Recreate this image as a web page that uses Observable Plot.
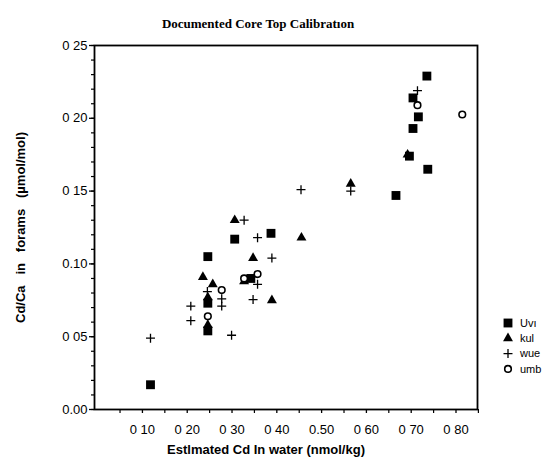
<!DOCTYPE html>
<html><head><meta charset="utf-8">
<script src="https://cdn.jsdelivr.net/npm/d3@7"></script>
<script src="https://cdn.jsdelivr.net/npm/@observablehq/plot@0.6"></script>
<style>body{margin:0;background:#fff} svg{display:block}</style>
</head><body><div id="chart"></div>
<script>
const titleText = "Documented Core Top Calibratıon";
const xLabel = "Estlmated Cd In water (nmol/kg)";
const yLabel = "Cd/Ca\u00a0\u00a0 in\u00a0\u00a0 forams\u00a0\u00a0 (\u00b5mol/mol)";
const series = ["Uvı", "kul", "wue", "umb"];

const xMajor = [0.1, 0.2, 0.3, 0.4, 0.5, 0.6, 0.7, 0.8];
const xTickLabels = ["0 10", "0 20", "0 30", "0 40", "0.50", "0 60", "0 70", "0 80"];
const xMinor = [0.05, 0.15, 0.25, 0.35, 0.45, 0.55, 0.65, 0.75, 0.85];
const yMajor = [0, 0.05, 0.1, 0.15, 0.2, 0.25];
const yTickLabels = ["0.00", "0 05", "0.10", "0 15", "0 20", "0 25"];
const yMinor = d3.range(0, 26).map(i => i / 100);

// Uvı (filled squares)
const uviX = [0.118, 0.246, 0.306, 0.387, 0.342, 0.246, 0.246, 0.666, 0.696, 0.737, 0.704, 0.716, 0.704, 0.735];
const uviY = [0.017, 0.105, 0.117, 0.121, 0.090, 0.073, 0.054, 0.147, 0.174, 0.165, 0.193, 0.201, 0.214, 0.229];
// kul (filled triangles)
const kulX = [0.306, 0.455, 0.347, 0.235, 0.257, 0.327, 0.246, 0.389, 0.246, 0.565, 0.692];
const kulY = [0.130, 0.118, 0.104, 0.091, 0.086, 0.088, 0.077, 0.075, 0.058, 0.155, 0.175];
// wue (plus)
const wueX = [0.327, 0.357, 0.389, 0.454, 0.565, 0.714, 0.357, 0.245, 0.277, 0.277, 0.208, 0.347, 0.208, 0.299, 0.118];
const wueY = [0.130, 0.118, 0.104, 0.151, 0.150, 0.219, 0.086, 0.081, 0.076, 0.071, 0.071, 0.0755, 0.061, 0.051, 0.049];
// umb (open circles)
const umbX = [0.277, 0.327, 0.357, 0.246, 0.714, 0.814];
const umbY = [0.082, 0.090, 0.093, 0.064, 0.209, 0.2026];

const toRows = (xs, ys) => xs.map((x, i) => ({x, y: ys[i]}));
const uvi = toRows(uviX, uviY), kul = toRows(kulX, kulY), wue = toRows(wueX, wueY), umb = toRows(umbX, umbY);

const sans = "'Liberation Sans', Arial, Helvetica, sans-serif";
const serif = "'Liberation Serif', 'Times New Roman', serif";

const plot = Plot.plot({
  width: 556, height: 466,
  marginLeft: 94, marginRight: 79, marginTop: 45, marginBottom: 57,
  style: {fontFamily: sans, background: "#fff", color: "#000", overflow: "visible"},
  x: {domain: [-0.007, 0.848]},
  y: {domain: [0, 0.25]},
  marks: [
    Plot.axisY(yMinor, {tickSize: 3, tickFormat: () => "", strokeWidth: 1.2, label: null}),
    Plot.axisY(yMajor, {tickSize: 5, tickPadding: 2, strokeWidth: 1.3, tickFormat: d => yTickLabels[yMajor.indexOf(d)], fontSize: 13, label: null}),
    Plot.axisX(xMinor, {tickSize: 4, tickFormat: () => "", strokeWidth: 1.2, label: null}),
    Plot.axisX(xMajor, {tickSize: 4, tickPadding: 11, strokeWidth: 1.3, tickFormat: d => xTickLabels[xMajor.indexOf(d)], fontSize: 13, label: null}),
    Plot.frame({stroke: "#000", strokeWidth: 1.8}),
    Plot.dot(uvi, {x: "x", y: "y", symbol: "square", r: 5, fill: "#000", stroke: "none"}),
    Plot.dot(kul, {x: "x", y: "y", symbol: "triangle", r: 3.7, fill: "#000", stroke: "none"}),
    Plot.dot(wue, {x: "x", y: "y", symbol: "plus", r: 3, fill: "none", stroke: "#000", strokeWidth: 1.3}),
    Plot.dot(umb, {x: "x", y: "y", r: 3.3, fill: "#fff", stroke: "#000", strokeWidth: 1.6}),
    Plot.text([titleText], {frameAnchor: "top", dx: -28, dy: -27, fontFamily: serif, fontWeight: "bold", fontSize: 13}),
    Plot.text([xLabel], {frameAnchor: "bottom", dx: -20, dy: 44, fontWeight: "bold", fontSize: 13}),
    Plot.text([yLabel], {frameAnchor: "left", rotate: -90, dx: -74, dy: 0, fontWeight: "bold", fontSize: 13, textAnchor: "middle"})
  ]
});
document.getElementById("chart").appendChild(plot);

// Legend
const svg = d3.select(plot);
const legendSymbols = [
  {path: d3.symbol(d3.symbolSquare, 25 * Math.PI)(), fill: "#000", stroke: "none", sw: 0},
  {path: d3.symbol(d3.symbolTriangle, 3.7 * 3.7 * Math.PI)(), fill: "#000", stroke: "none", sw: 0},
  {path: d3.symbol(d3.symbolPlus, 9 * Math.PI)(), fill: "none", stroke: "#000", sw: 1.3},
  {path: d3.symbol(d3.symbolCircle, 3.3 * 3.3 * Math.PI)(), fill: "#fff", stroke: "#000", sw: 1.6}
];
const lg = svg.append("g").attr("class", "legend").attr("text-anchor", "start");
series.forEach((name, i) => {
  const yy = 323 + i * 15.3;
  const s = legendSymbols[i];
  lg.append("path").attr("d", s.path).attr("transform", `translate(508,${yy})`)
    .attr("fill", s.fill).attr("stroke", s.stroke).attr("stroke-width", s.sw);
  lg.append("text").attr("x", 520).attr("y", yy).attr("dy", "0.35em")
    .attr("text-anchor", "start")
    .attr("font-family", sans).attr("font-size", 11).text(name);
});
</script>
</body></html>
